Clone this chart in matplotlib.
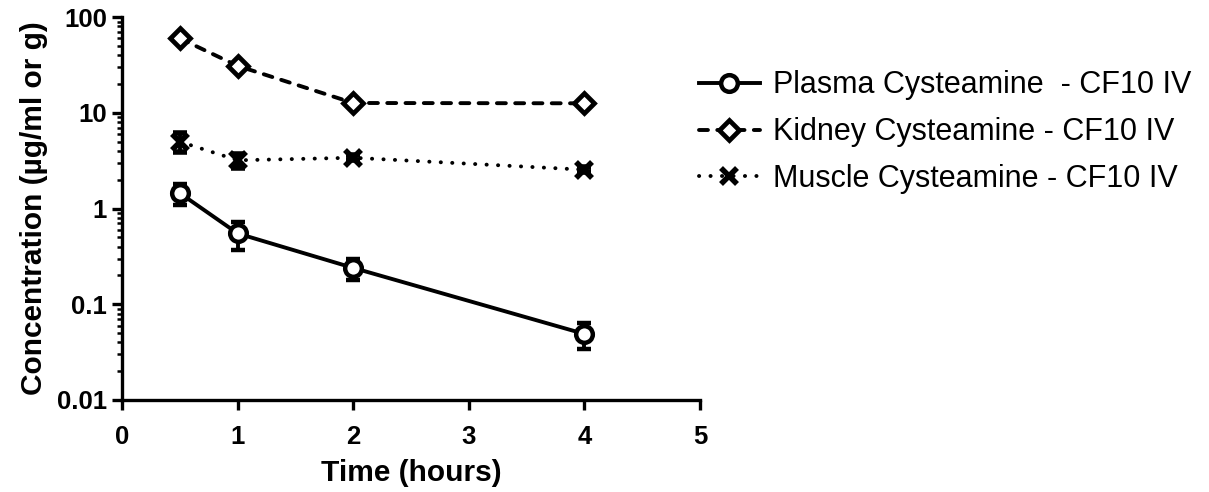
import matplotlib
matplotlib.use("Agg")
import matplotlib.pyplot as plt
from matplotlib.ticker import LogLocator, FixedLocator, FixedFormatter, NullFormatter

plt.rcParams["font.family"] = ["Liberation Sans", "DejaVu Sans"]

# time points (hours)
time_h = [0.5, 1, 2, 4]

plasma = [1.45, 0.55, 0.24, 0.049]
plasma_err = [0.35, 0.18, 0.06, 0.015]

kidney = [60.0, 31.0, 12.7, 12.6]
kidney_err = [4.0, 2.5, 0.8, 0.7]

muscle = [5.0, 3.2, 3.4, 2.55]
muscle_err = [1.1, 0.55, 0.2, 0.15]

labels = [
    "Plasma Cysteamine  - CF10 IV",
    "Kidney Cysteamine - CF10 IV",
    "Muscle Cysteamine - CF10 IV",
]

y_ticks = [0.01, 0.1, 1, 10, 100]
y_tick_labels = ["0.01", "0.1", "1", "10", "100"]
x_ticks = [0, 1, 2, 3, 4, 5]

fig = plt.figure(figsize=(12.09, 4.92), dpi=100)
ax = fig.add_axes([0.101, 0.187, 0.478, 0.778])

lw = 2.8
common = dict(color="black", ecolor="black", elinewidth=lw, capsize=5, capthick=3.5,
              linewidth=lw)

pla = ax.errorbar(time_h, plasma, yerr=plasma_err, marker="o", markersize=12,
                  markeredgewidth=3.2, markerfacecolor="white", linestyle="-",
                  label=labels[0], **common)
kid = ax.errorbar(time_h, kidney, yerr=kidney_err, marker="D", markersize=10.5,
                  markeredgewidth=3.4, markerfacecolor="white",
                  linestyle=(0, (2.3, 2.4)), label=labels[1], **common)
mus = ax.errorbar(time_h, muscle, yerr=muscle_err, marker="x", markersize=11,
                  markeredgewidth=4, linestyle=(0, (0.05, 2.9)), label=labels[2], **common)
kid[0].set_dash_capstyle("round")
mus[0].set_dash_capstyle("round")

ax.set_yscale("log")
ax.set_ylim(0.01, 100)
ax.set_xlim(0, 5)
ax.yaxis.set_major_locator(FixedLocator(y_ticks))
ax.yaxis.set_major_formatter(FixedFormatter(y_tick_labels))
ax.yaxis.set_minor_locator(LogLocator(base=10, subs=range(2, 10)))
ax.yaxis.set_minor_formatter(NullFormatter())
ax.set_xticks(x_ticks)

for side in ("top", "right"):
    ax.spines[side].set_visible(False)
for side in ("left", "bottom"):
    ax.spines[side].set_linewidth(2.4)

ax.tick_params(axis="both", which="major", length=7, width=2.4, labelsize=18.5)
ax.tick_params(axis="x", which="major", pad=11)
ax.tick_params(axis="y", which="major", pad=4)
ax.tick_params(axis="y", which="minor", length=3.8, width=1.8)
for lbl in ax.get_xticklabels() + ax.get_yticklabels():
    lbl.set_fontweight("bold")

ax.set_xlabel("Time (hours)", fontsize=21.5, fontweight="bold", labelpad=7)
ax.set_ylabel("Concentration (\u00b5g/ml or g)", fontsize=21.5, fontweight="bold", labelpad=6)

leg = ax.legend(handles=[pla[0], kid[0], mus[0]], labels=labels,
                loc="upper left", bbox_to_anchor=(0.998, 0.861), frameon=False,
                fontsize=22, handlelength=2.0, handletextpad=0.42, labelspacing=0.55,
                borderpad=0, borderaxespad=0)

fig.savefig("out.png", dpi=100)
